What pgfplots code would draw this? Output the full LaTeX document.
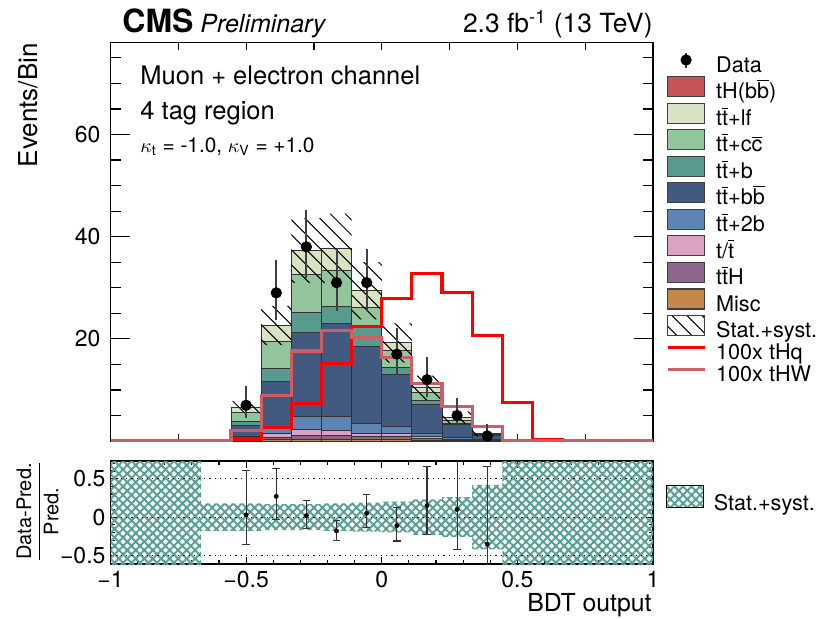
\documentclass[border=0pt]{standalone}
\usepackage{pgfplots}
\pgfplotsset{compat=1.18}
\usepackage{fontspec}
\setmainfont{TeX Gyre Heros}
\usetikzlibrary{patterns,patterns.meta}
\definecolor{cTH}{RGB}{200,84,90}
\definecolor{cLF}{RGB}{216,226,196}
\definecolor{cCC}{RGB}{147,197,156}
\definecolor{cB}{RGB}{89,154,143}
\definecolor{cBB}{RGB}{66,89,128}
\definecolor{cTB}{RGB}{92,133,180}
\definecolor{cT}{RGB}{218,163,193}
\definecolor{cTTH}{RGB}{141,102,143}
\definecolor{cMisc}{RGB}{194,135,74}
\definecolor{cTHW}{RGB}{210,92,100}
\definecolor{cBand}{RGB}{88,160,148}
\newcommand{\tbar}{\ensuremath{\overline{\mbox{t}}}}
\newcommand{\bbar}{\ensuremath{\overline{\mbox{b}}}}
\newcommand{\cbar}{\ensuremath{\overline{\mbox{c}}}}
\pgfplotsset{
  boxleg/.style={legend image code/.code={\draw[fill=#1, draw=black!75, line width=0.6pt] (0pt,-1.5pt) rectangle (18.5pt,8.5pt);}},
  lineleg/.style={legend image code/.code={\draw[#1, line width=1.6pt] (0pt,3.5pt) -- (18.5pt,3.5pt);}},
  stack/.style={ybar, bar width=0.11111, bar shift=0pt, fill=#1, draw=black!80, line width=0.5pt, forget plot},
}
\begin{document}
\begin{tikzpicture}
\useasboundingbox (0,0) rectangle (414.5pt,309pt);
% ---------------- main panel ----------------
\begin{axis}[
  at={(55.25pt,88.5pt)}, anchor=south west, scale only axis,
  width=271.25pt, height=199.25pt,
  xmin=-1, xmax=1, ymin=0, ymax=78,
  axis line style={line width=0.7pt},
  every tick/.append style={black, line width=0.6pt},
  tick align=inside,
  major tick length=9.5pt, minor tick length=5pt,
  xtick={-1,-0.5,0,0.5,1}, minor xtick={-0.75,-0.25,0.25,0.75},
  xticklabels={},
  major x tick style={/pgfplots/major tick length=3.5pt},
  minor x tick style={/pgfplots/minor tick length=3.5pt},
  ytick={20,40,60}, minor ytick={5,10,15,25,30,35,45,50,55,65,70,75},
  yticklabel style={font=\fontsize{11.5}{13}\selectfont, xshift=-1.5pt},
  /pgf/number format/assume math mode=true,
  legend cell align=left,
  legend style={at={(1,1)}, anchor=north west, xshift=6.5pt, yshift=-4.5pt,
    draw=none, fill=none, inner sep=0pt, outer sep=0pt,
    font=\fontsize{10.8}{12}\selectfont, row sep=-1.95pt, column sep=5pt,
    nodes={inner sep=0pt, text height=9pt, text depth=3.85pt}},
]
% stacked backgrounds (cumulative tops, drawn from top layer down)
\addplot[stack=cLF] coordinates {(-0.6111,0.3) (-0.5,6.6) (-0.3889,22.6) (-0.2778,37.3) (-0.1667,37.7) (-0.0556,29.4) (0.0556,19.2) (0.1667,10.4) (0.2778,4.6) (0.3889,1.55) (0.5,0.2)};
\addplot[stack=cCC] coordinates {(-0.6111,0.3) (-0.5,5.5) (-0.3889,19.4) (-0.2778,32.5) (-0.1667,33.3) (-0.0556,26.1) (0.0556,17.7) (0.1667,9.5) (0.2778,4.1) (0.3889,1.4) (0.5,0.18)};
\addplot[stack=cB] coordinates {(-0.6111,0.3) (-0.5,3.8) (-0.3889,14.2) (-0.2778,25.1) (-0.1667,26.4) (-0.0556,22.3) (0.0556,14.3) (0.1667,7.9) (0.2778,3.5) (0.3889,1.2) (0.5,0.17)};
\addplot[stack=cBB] coordinates {(-0.6111,0.3) (-0.5,3.0) (-0.3889,11.7) (-0.2778,21.3) (-0.1667,23.0) (-0.0556,18.5) (0.0556,13.0) (0.1667,7.1) (0.2778,3.15) (0.3889,1.0) (0.5,0.15)};
\addplot[stack=cTB] coordinates {(-0.6111,0.2) (-0.5,0.8) (-0.3889,2.6) (-0.2778,4.8) (-0.1667,4.7) (-0.0556,3.4) (0.0556,2.8) (0.1667,1.5) (0.2778,0.6) (0.3889,0.2) (0.5,0.05)};
\addplot[stack=cT] coordinates {(-0.6111,0.15) (-0.5,0.35) (-0.3889,1.4) (-0.2778,2.3) (-0.1667,2.0) (-0.0556,1.5) (0.0556,1.4) (0.1667,0.9) (0.2778,0.3) (0.3889,0.1) (0.5,0.03)};
\addplot[stack=cTTH] coordinates {(-0.6111,0.05) (-0.5,0.15) (-0.3889,0.65) (-0.2778,1.1) (-0.1667,1.0) (-0.0556,0.8) (0.0556,0.8) (0.1667,0.4) (0.2778,0.15) (0.3889,0.05)};
\addplot[stack=cMisc] coordinates {(-0.5,0.05) (-0.3889,0.2) (-0.2778,0.3) (-0.1667,0.3) (-0.0556,0.2) (0.0556,0.2) (0.1667,0.1) (0.2778,0.05)};
% stat+syst band
\addplot[draw=none, pattern={Lines[angle=-45,distance=5.3pt,line width=0.5pt]}, pattern color=black, forget plot] coordinates {
 (-0.6667,0.35) (-0.5556,0.35) (-0.5556,7.79) (-0.4444,7.79) (-0.4444,26.44) (-0.3333,26.44) (-0.3333,43.64) (-0.2222,43.64) (-0.2222,44.49) (-0.1111,44.49) (-0.1111,34.99) (0,34.99) (0,23.04) (0.1111,23.04) (0.1111,12.79) (0.2222,12.79) (0.2222,5.80) (0.3333,5.80) (0.3333,2.20) (0.4444,2.20) (0.4444,0.4) (0.5556,0.4)
 (0.5556,0) (0.4444,0) (0.4444,0.90) (0.3333,0.90) (0.3333,3.40) (0.2222,3.40) (0.2222,8.01) (0.1111,8.01) (0.1111,15.36) (0,15.36) (0,23.81) (-0.1111,23.81) (-0.1111,30.91) (-0.2222,30.91) (-0.2222,30.96) (-0.3333,30.96) (-0.3333,18.76) (-0.4444,18.76) (-0.4444,5.41) (-0.5556,5.41) (-0.5556,0.25) (-0.6667,0.25)} -- cycle;
% signals
\addplot[const plot, red, line width=1.6pt, forget plot] coordinates {(-1,0) (-0.5556,0.4) (-0.4444,2.6) (-0.3333,7.3) (-0.2222,15.1) (-0.1111,22.4) (0,27.9) (0.1111,32.8) (0.2222,29.0) (0.3333,20.7) (0.4444,7.5) (0.5556,0.3) (0.6667,0) (1,0)};
\addplot[const plot, cTHW, line width=1.6pt, forget plot] coordinates {(-1,0) (-0.5556,2.0) (-0.4444,8.9) (-0.3333,17.6) (-0.2222,21.7) (-0.1111,20.3) (0,16.4) (0.1111,11.3) (0.2222,6.7) (0.3333,2.8) (0.4444,0) (1,0)};
% data
\addplot[only marks, mark=*, mark size=2.6pt, black, forget plot,
  error bars/.cd, y dir=both, y explicit, error mark=none,
  error bar style={line width=1pt, black!75}] coordinates {
 (-0.5,7) += (0,3.77) -= (0,2.58)
 (-0.3889,29) += (0,6.43) -= (0,5.35)
 (-0.2778,38) += (0,7.22) -= (0,6.14)
 (-0.1667,31) += (0,6.61) -= (0,5.53)
 (-0.0556,31) += (0,6.61) -= (0,5.53)
 (0.0556,17) += (0,5.18) -= (0,4.09)
 (0.1667,12) += (0,4.54) -= (0,3.42)
 (0.2778,5) += (0,3.38) -= (0,2.16)
 (0.3889,1) += (0,2.30) -= (0,0.83)};
% legend
\addlegendimage{legend image code/.code={\draw[black!80, line width=1pt] (9.25pt,-0.25pt) -- (9.25pt,7.25pt); \fill[black] (9.25pt,3.5pt) circle (2.6pt);}}
\addlegendentry{Data}
\addlegendimage{boxleg=cTH}\addlegendentry{tH(b\bbar)}
\addlegendimage{boxleg=cLF}\addlegendentry{t\tbar+lf}
\addlegendimage{boxleg=cCC}\addlegendentry{t\tbar+c\cbar}
\addlegendimage{boxleg=cB}\addlegendentry{t\tbar+b}
\addlegendimage{boxleg=cBB}\addlegendentry{t\tbar+b\bbar}
\addlegendimage{boxleg=cTB}\addlegendentry{t\tbar+2b}
\addlegendimage{boxleg=cT}\addlegendentry{t/\tbar}
\addlegendimage{boxleg=cTTH}\addlegendentry{t\tbar H}
\addlegendimage{boxleg=cMisc}\addlegendentry{Misc}
\addlegendimage{legend image code/.code={\draw[pattern={Lines[angle=-45,distance=5.3pt,line width=0.5pt]}, pattern color=black, draw=black!75, line width=0.6pt] (0pt,-1.5pt) rectangle (18.5pt,8.5pt);}}
\addlegendentry{Stat.+syst.}
\addlegendimage{lineleg=red}\addlegendentry{100x tHq}
\addlegendimage{lineleg=cTHW}\addlegendentry{100x tHW}
\end{axis}
% ---------------- ratio panel ----------------
\begin{axis}[
  at={(55.25pt,27pt)}, anchor=south west, scale only axis,
  width=271.25pt, height=51.5pt,
  xmin=-1, xmax=1, ymin=-0.61, ymax=0.73,
  axis line style={line width=0.7pt},
  every tick/.append style={black, line width=0.6pt},
  tick align=inside,
  major tick length=3.5pt, minor tick length=2pt,
  xtick={-1,-0.5,0,0.5,1}, xticklabels={−1,−0.5,0,0.5,1},
  minor xtick={-0.9,-0.8,-0.7,-0.6,-0.4,-0.3,-0.2,-0.1,0.1,0.2,0.3,0.4,0.6,0.7,0.8,0.9},
  ytick={-0.5,0,0.5}, yticklabels={−0.5,0,0.5},
  minor ytick={-0.6,-0.4,-0.3,-0.2,-0.1,0.1,0.2,0.3,0.4,0.6,0.7},
  ticklabel style={font=\fontsize{11.5}{13}\selectfont},
  yticklabel style={xshift=1pt},
  legend cell align=left,
  legend style={at={(1,0.631)}, anchor=west, xshift=6.5pt,
    draw=none, fill=none, inner sep=0pt, outer sep=0pt,
    font=\fontsize{10.8}{12}\selectfont, column sep=5pt, nodes={inner sep=0pt}},
]
\addplot[draw=none, pattern={Hatch[angle=45,distance=3pt,line width=1pt]}, pattern color=cBand, forget plot] coordinates {
 (-1,1) (-0.6667,1) (-0.6667,0.18) (-0.4444,0.18) (-0.4444,0.17) (-0.2222,0.17) (-0.2222,0.18) (-0.1111,0.18) (-0.1111,0.19) (0,0.19) (0,0.20) (0.1111,0.20) (0.1111,0.23) (0.2222,0.23) (0.2222,0.26) (0.3333,0.26) (0.3333,0.42) (0.4444,0.42) (0.4444,1) (1,1)
 (1,-1) (0.4444,-1) (0.4444,-0.42) (0.3333,-0.42) (0.3333,-0.26) (0.2222,-0.26) (0.2222,-0.23) (0.1111,-0.23) (0.1111,-0.20) (0,-0.20) (0,-0.19) (-0.1111,-0.19) (-0.1111,-0.18) (-0.2222,-0.18) (-0.2222,-0.17) (-0.4444,-0.17) (-0.4444,-0.18) (-0.6667,-0.18) (-0.6667,-1) (-1,-1)} -- cycle;
\addplot[dotted, black, line width=0.6pt, forget plot] coordinates {(-1,0.5) (1,0.5)};
\addplot[dotted, black, line width=0.6pt, forget plot] coordinates {(-1,0) (1,0)};
\addplot[dotted, black, line width=0.6pt, forget plot] coordinates {(-1,-0.5) (1,-0.5)};
\addplot[only marks, mark=*, mark size=1pt, black, forget plot,
  error bars/.cd, y dir=both, y explicit,
  error mark options={rotate=90, mark size=1.9pt, line width=0.6pt, black!80},
  error bar style={line width=0.6pt, black!80}] coordinates {
 (-0.5,0.03) += (0,0.58) -= (0,0.39)
 (-0.3889,0.27) += (0,0.36) -= (0,0.30)
 (-0.2778,0.02) += (0,0.20) -= (0,0.17)
 (-0.1667,-0.18) += (0,0.14) -= (0,0.12)
 (-0.0556,0.05) += (0,0.24) -= (0,0.19)
 (0.0556,-0.11) += (0,0.23) -= (0,0.20)
 (0.1667,0.15) += (0,0.51) -= (0,0.38)
 (0.2778,0.10) += (0,0.75) -= (0,0.52)
 (0.3889,-0.35) += (0,1.01) -= (0,0.70)};
\addlegendimage{legend image code/.code={\fill[pattern={Hatch[angle=45,distance=3pt,line width=1pt]}, pattern color=cBand] (0pt,-2pt) rectangle (18.5pt,9pt);}}
\addlegendentry{Stat.+syst.}
\end{axis}
% ---------------- texts ----------------
\node[anchor=base west, inner sep=0pt, font=\fontsize{16}{18}\selectfont\bfseries] at (61pt,293pt) {CMS};
\node[anchor=base west, inner sep=0pt, font=\fontsize{12.5}{14}\selectfont\itshape] at (100pt,293pt) {Preliminary};
\node[anchor=base east, inner sep=0pt, font=\fontsize{13.2}{15}\selectfont] at (326.5pt,293pt) {2.3 fb\textsuperscript{-1} (13 TeV)};
\node[anchor=base west, inner sep=0pt, font=\fontsize{12.75}{14}\selectfont] at (70pt,267pt) {Muon + electron channel};
\node[anchor=base west, inner sep=0pt, font=\fontsize{12.75}{14}\selectfont] at (70pt,249.5pt) {4 tag region};
\node[anchor=base west, inner sep=0pt, font=\fontsize{10.4}{12}\selectfont] at (70pt,233pt) {$\kappa_{\mbox{\scriptsize t}}$ = -1.0, $\kappa_{\mbox{\scriptsize V}}$ = +1.0};
\node[rotate=90, anchor=base east, inner sep=0pt, font=\fontsize{13}{15}\selectfont] at (18.75pt,287.5pt) {Events/Bin};
\node[rotate=90, inner sep=0pt, font=\fontsize{10}{12}\selectfont] at (18.75pt,53.25pt) {$\displaystyle\frac{\mbox{Data-Pred.}}{\mbox{Pred.}}$};
\node[anchor=base east, inner sep=0pt, font=\fontsize{12.4}{14}\selectfont] at (326pt,3.5pt) {BDT output};
\end{tikzpicture}
\end{document}
